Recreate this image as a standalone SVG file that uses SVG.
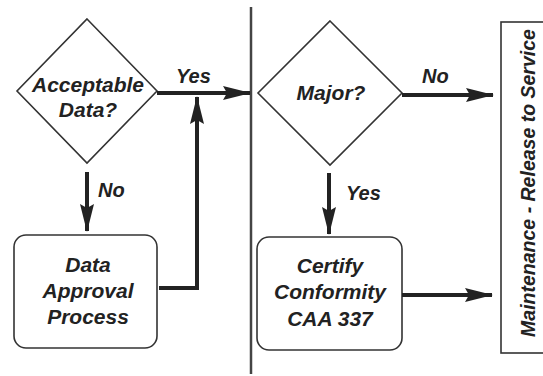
<svg xmlns="http://www.w3.org/2000/svg" width="543" height="376" viewBox="0 0 543 376">
<style>
.shape{fill:#fff;stroke:#333;stroke-width:1.6}
.conn{fill:none;stroke:#222;stroke-width:4}
.lbl{font-family:"Liberation Sans",Arial,sans-serif;font-weight:bold;font-style:italic;font-size:21px;fill:#222;text-anchor:middle}
.sm{font-size:20px;text-anchor:start}
.side{font-size:19.5px}
</style>
<defs>
<marker id="ah" markerUnits="userSpaceOnUse" markerWidth="28" markerHeight="16" refX="27" refY="8" orient="auto" viewBox="0 0 28 16">
<path d="M0,1 L28,8 L0,15 L4,8 Z" fill="#222"/>
</marker>
</defs>
<rect width="543" height="376" fill="#fff"/>
<line x1="251" y1="7" x2="251" y2="374" stroke="#444" stroke-width="2.5"/>
<g id="decision-acceptable">
<polygon class="shape" points="87,19 157,91 87,163 17,91"/>
<text class="lbl" x="88" y="92">Acceptable</text>
<text class="lbl" x="88" y="117">Data?</text>
</g>
<g id="process-approval">
<rect class="shape" x="14" y="235" width="143" height="113" rx="12"/>
<text class="lbl" x="88" y="272">Data</text>
<text class="lbl" x="88" y="298">Approval</text>
<text class="lbl" x="88" y="324">Process</text>
</g>
<g id="decision-major">
<polygon class="shape" points="330,21 402,93 330,165 258,93"/>
<text class="lbl" x="331" y="100">Major?</text>
</g>
<g id="process-certify">
<rect class="shape" x="257" y="237" width="145" height="113" rx="12"/>
<text class="lbl" x="330" y="273">Certify</text>
<text class="lbl" x="330" y="299">Conformity</text>
<text class="lbl" x="330" y="326">CAA 337</text>
</g>
<g id="release-to-service">
<rect class="shape" x="501" y="22" width="50" height="331"/>
<text class="lbl side" transform="translate(535,183) rotate(-90)">Maintenance - Release to Service</text>
</g>
<g id="connectors">
<line class="conn" x1="157" y1="93" x2="250" y2="93" marker-end="url(#ah)"/>
<polyline class="conn" points="159,288 197,288 197,97" marker-end="url(#ah)"/>
<line class="conn" x1="87" y1="172" x2="87" y2="231" marker-end="url(#ah)"/>
<line class="conn" x1="402" y1="95" x2="493" y2="95" marker-end="url(#ah)"/>
<line class="conn" x1="329" y1="173" x2="329" y2="234" marker-end="url(#ah)"/>
<line class="conn" x1="402" y1="295" x2="492" y2="295" marker-end="url(#ah)"/>
<text class="lbl sm" x="176" y="83">Yes</text>
<text class="lbl sm" x="98" y="197">No</text>
<text class="lbl sm" x="422" y="83">No</text>
<text class="lbl sm" x="346" y="200">Yes</text>
</g>
</svg>
